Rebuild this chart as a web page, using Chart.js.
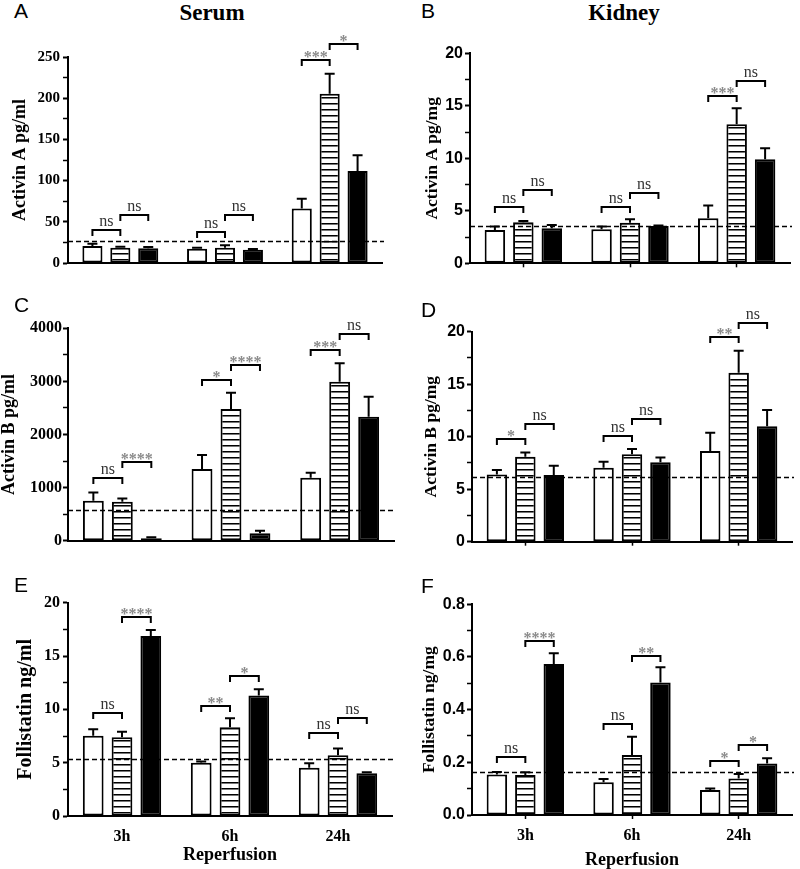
<!DOCTYPE html>
<html><head><meta charset="utf-8">
<script src="https://cdn.jsdelivr.net/npm/chart.js@4.4.0/dist/chart.umd.min.js"></script>
<style>
html,body{margin:0;padding:0;background:#fff;}
#wrap{position:relative;width:800px;height:869px;overflow:hidden;background:#fff;}
canvas{position:absolute;}
.lbl{position:absolute;font-family:"Liberation Sans",Arial,sans-serif;font-size:21px;line-height:21px;color:#000;z-index:5;}
.head{position:absolute;width:200px;text-align:center;font-family:"Liberation Serif","Times New Roman",serif;font-weight:bold;font-size:23px;line-height:23px;color:#000;z-index:5;}
</style></head>
<body><div id="wrap">
<div class="head" style="left:112px;top:1px;">Serum</div>
<div class="head" style="left:524px;top:1px;">Kidney</div>
<div class="lbl" style="left:14px;top:0px;">A</div>
<div class="lbl" style="left:421px;top:0px;">B</div>
<div class="lbl" style="left:14px;top:294px;">C</div>
<div class="lbl" style="left:421px;top:299px;">D</div>
<div class="lbl" style="left:14px;top:574px;">E</div>
<div class="lbl" style="left:421px;top:575px;">F</div>
<canvas id="cA" width="400" height="265" style="left:0;top:25px"></canvas>
<canvas id="cB" width="400" height="265" style="left:400px;top:25px"></canvas>
<canvas id="cC" width="400" height="275" style="left:0;top:295px"></canvas>
<canvas id="cD" width="400" height="275" style="left:400px;top:295px"></canvas>
<canvas id="cE" width="400" height="279" style="left:0;top:590px"></canvas>
<canvas id="cF" width="400" height="279" style="left:400px;top:590px"></canvas>
</div>
<script>
// ---------- DATA ----------
const groups = ['3h', '6h', '24h'];

// Panel A: Serum Activin A pg/ml
const A_white = [20.5, 17.4, 66];      const A_whiteSem = [3, 1.2, 12];
const A_stripe = [18.6, 18.6, 205.5];  const A_stripeSem = [1.2, 2.8, 24.3];
const A_black = [17.8, 16.2, 111.6];   const A_blackSem = [1.6, 0.8, 19.1];
const A_ref = 26.5;
const A_sig = [[0,0,1,40.5,'ns'],[0,1,2,57.8,'ns'],[1,0,1,37.6,'ns'],[1,1,2,57.8,'ns'],[2,0,1,246.8,'***'],[2,1,2,266,'*']];

// Panel B: Kidney Activin A pg/mg
const B_white = [3.17, 3.24, 4.29];    const B_whiteSem = [0.33, 0.26, 1.21];
const B_stripe = [3.9, 3.87, 13.24];   const B_stripeSem = [0.13, 0.33, 1.52];
const B_black = [3.33, 3.56, 9.9];     const B_blackSem = [0.32, 0.03, 1.05];
const B_ref = 3.55;
const B_sig = [[0,0,1,5.33,'ns'],[0,1,2,6.98,'ns'],[1,0,1,5.4,'ns'],[1,1,2,6.73,'ns'],[2,0,1,15.97,'***'],[2,1,2,17.4,'ns']];

// Panel C: Serum Activin B pg/ml
const C_white = [753, 1350, 1187];     const C_whiteSem = [157, 264, 94];
const C_stripe = [735, 2480, 2995];    const C_stripeSem = [62, 308, 346];
const C_black = [44, 138, 2336];       const C_blackSem = [19, 50, 377];
const C_ref = 582;
const C_sig = [[0,0,1,1187,'ns'],[0,1,2,1476,'****'],[1,0,1,3027,'*'],[1,1,2,3309,'****'],[2,0,1,3592,'***'],[2,1,2,3887,'ns']];

// Panel D: Kidney Activin B pg/mg
const D_white = [6.41, 7.05, 8.63];    const D_whiteSem = [0.42, 0.57, 1.75];
const D_stripe = [8.1, 8.32, 16.1];    const D_stripeSem = [0.4, 0.51, 2.09];
const D_black = [6.35, 7.56, 11.0];    const D_blackSem = [0.89, 0.47, 1.54];
const D_ref = 6.12;
const D_sig = [[0,0,1,9.78,'*'],[0,1,2,11.17,'ns'],[1,0,1,10.1,'ns'],[1,1,2,11.68,'ns'],[2,0,1,19.46,'**'],[2,1,2,20.8,'ns']];

// Panel E: Serum Follistatin ng/ml
const E_white = [7.53, 5.0, 4.53];     const E_whiteSem = [0.6, 0.1, 0.41];
const E_stripe = [7.38, 8.31, 5.69];   const E_stripeSem = [0.52, 0.85, 0.65];
const E_black = [16.88, 11.31, 4.0];   const E_blackSem = [0.56, 0.57, 0.1];
const E_ref = 5.38;
const E_sig = [[0,0,1,9.63,'ns'],[0,1,2,18.69,'****'],[1,0,1,10.31,'**'],[1,1,2,13.16,'*'],[2,0,1,7.75,'ns'],[2,1,2,9.22,'ns']];

// Panel F: Kidney Follistatin ng/mg
const F_white = [0.154, 0.124, 0.095]; const F_whiteSem = [0.009, 0.013, 0.006];
const F_stripe = [0.152, 0.228, 0.139];const F_stripeSem = [0.01, 0.069, 0.017];
const F_black = [0.573, 0.503, 0.196]; const F_blackSem = [0.041, 0.058, 0.019];
const F_ref = 0.164;
const F_sig = [[0,0,1,0.2215,'ns'],[0,1,2,0.661,'****'],[1,0,1,0.344,'ns'],[1,1,2,0.605,'**'],[2,0,1,0.206,'*'],[2,1,2,0.266,'*']];

// ---------- DRAWING ----------
const SERIF = '"Liberation Serif","Times New Roman",serif';
const SANS = '"Liberation Sans",Arial,sans-serif';

const annot = {
  id: 'annot',
  afterDatasetsDraw(chart, args, o) {
    const ctx = chart.ctx, y = chart.scales.y, ca = chart.chartArea;
    ctx.save();
    // error bars
    chart.data.datasets.forEach((ds, di) => {
      const meta = chart.getDatasetMeta(di);
      meta.data.forEach((bar, i) => {
        const top = y.getPixelForValue(ds.data[i]);
        const e = y.getPixelForValue(ds.data[i] + o.sem[di][i]);
        ctx.strokeStyle = '#000'; ctx.lineWidth = 2;
        ctx.beginPath();
        ctx.moveTo(bar.x, top); ctx.lineTo(bar.x, e);
        ctx.moveTo(bar.x - 5, e); ctx.lineTo(bar.x + 5, e);
        ctx.stroke();
      });
    });
    // dashed reference line
    const yr = Math.round(y.getPixelForValue(o.ref)) + 0.5;
    ctx.strokeStyle = '#000'; ctx.lineWidth = 1.5; ctx.setLineDash([5, 3]);
    ctx.beginPath(); ctx.moveTo(ca.left, yr); ctx.lineTo(ca.right + 2, yr); ctx.stroke();
    ctx.setLineDash([]);
    // significance brackets
    o.sig.forEach(b => {
      const [g, s1, s2, v, txt] = b;
      const x1 = chart.getDatasetMeta(s1).data[g].x;
      const x2 = chart.getDatasetMeta(s2).data[g].x;
      const yy = Math.round(y.getPixelForValue(v));
      ctx.strokeStyle = '#000'; ctx.lineWidth = 2;
      ctx.beginPath();
      ctx.moveTo(x1, yy + 6); ctx.lineTo(x1, yy); ctx.lineTo(x2, yy); ctx.lineTo(x2, yy + 6);
      ctx.stroke();
      ctx.textAlign = 'center'; ctx.textBaseline = 'alphabetic';
      const cx = (x1 + x2) / 2;
      if (txt === 'ns') {
        ctx.font = '16px ' + SERIF; ctx.fillStyle = '#333';
        ctx.fillText(txt, cx, yy - 4);
      } else {
        ctx.font = 'bold 16px ' + SERIF; ctx.fillStyle = '#8a8a8a';
        ctx.fillText(txt, cx, yy + 2);
      }
    });
    ctx.restore();
  }
};

function stripePattern(ctx) {
  const pc = document.createElement('canvas'); pc.width = 6; pc.height = 6;
  const g = pc.getContext('2d');
  g.fillStyle = '#fff'; g.fillRect(0, 0, 6, 6);
  g.fillStyle = '#000'; g.fillRect(0, 0, 6, 1);
  g.fillStyle = '#777'; g.fillRect(0, 1, 6, 1);
  return ctx.createPattern(pc, 'repeat');
}

function makePanel(id, d, L) {
  const cv = document.getElementById(id);
  const ctx = cv.getContext('2d');
  const isMajor = v => Math.abs(v / L.major - Math.round(v / L.major)) < 1e-6;
  const common = { borderColor: '#000', borderWidth: 2, borderSkipped: false, categoryPercentage: 0.8, barPercentage: 0.72 };
  new Chart(ctx, {
    type: 'bar',
    data: {
      labels: groups,
      datasets: [
        Object.assign({ data: d.white, backgroundColor: '#fff' }, common),
        Object.assign({ data: d.stripe, backgroundColor: stripePattern(ctx) }, common),
        Object.assign({ data: d.black, backgroundColor: '#000' }, common)
      ]
    },
    options: {
      responsive: false, animation: false, devicePixelRatio: 1,
      layout: { padding: { top: L.padTop, right: L.padRight, left: 0, bottom: 0 } },
      plugins: {
        legend: { display: false }, tooltip: { enabled: false },
        annot: { sem: [d.whiteSem, d.stripeSem, d.blackSem], ref: d.ref, sig: d.sig }
      },
      scales: {
        x: {
          offset: true,
          grid: { display: true, drawOnChartArea: false, offset: false, tickLength: 4, tickWidth: 1.5,
                  tickColor: L.xTicks ? '#000' : 'rgba(0,0,0,0)' },
          border: { display: true, color: '#000', width: 2 },
          ticks: { display: !!L.xLabels, color: '#000', padding: 9,
                   font: { family: SERIF, weight: 'bold', size: 16, lineHeight: 1 } },
          title: { display: !!L.xLabels, text: 'Reperfusion', color: '#000',
                   font: { family: SERIF, weight: 'bold', size: 18, lineHeight: 1 },
                   padding: { top: 0, bottom: L.xTitlePad || 0 } },
          afterFit: s => { s.height = L.xh; }
        },
        y: {
          min: 0, max: L.max,
          grid: { display: true, drawOnChartArea: false, tickLength: 5, tickColor: '#000',
                  tickWidth: c => (c.tick && isMajor(c.tick.value)) ? 2 : 1.5 },
          border: { display: true, color: '#000', width: 2 },
          ticks: {
            stepSize: L.minor, autoSkip: false, color: '#000', padding: L.tickPad,
            font: { family: L.tickFamily, weight: 'bold', size: L.tickSize, lineHeight: 1 },
            callback: v => isMajor(v) ? (L.dec ? Number(v).toFixed(L.dec) : String(Math.round(v))) : ''
          },
          title: { display: true, text: L.title, color: '#000',
                   font: { family: SERIF, weight: 'bold', size: L.titleSize, lineHeight: 1 },
                   padding: { top: L.titlePad, bottom: 0 } },
          afterFit: s => { s.width = L.axisX; }
        }
      }
    },
    plugins: [annot]
  });
}

makePanel('cA', { white: A_white, whiteSem: A_whiteSem, stripe: A_stripe, stripeSem: A_stripeSem, black: A_black, blackSem: A_blackSem, ref: A_ref, sig: A_sig },
  { axisX: 68, padTop: 32, padRight: 18, xh: 27, max: 250, minor: 25, major: 50, tickFamily: SERIF, tickSize: 15, tickPad: 3,
    title: 'Activin A pg/ml', titleSize: 18, titlePad: 11, xTicks: false });
makePanel('cB', { white: B_white, whiteSem: B_whiteSem, stripe: B_stripe, stripeSem: B_stripeSem, black: B_black, blackSem: B_blackSem, ref: B_ref, sig: B_sig },
  { axisX: 70, padTop: 28.3, padRight: 10, xh: 26.7, max: 20, minor: 2.5, major: 5, tickFamily: SANS, tickSize: 16, tickPad: 2,
    title: 'Activin A pg/mg', titleSize: 17.5, titlePad: 24, xTicks: true });
makePanel('cC', { white: C_white, whiteSem: C_whiteSem, stripe: C_stripe, stripeSem: C_stripeSem, black: C_black, blackSem: C_blackSem, ref: C_ref, sig: C_sig },
  { axisX: 68, padTop: 33.3, padRight: 6, xh: 29.3, max: 4000, minor: 500, major: 1000, tickFamily: SERIF, tickSize: 16, tickPad: 1,
    title: 'Activin B pg/ml', titleSize: 18, titlePad: 0.5, xTicks: false });
makePanel('cD', { white: D_white, whiteSem: D_whiteSem, stripe: D_stripe, stripeSem: D_stripeSem, black: D_black, blackSem: D_blackSem, ref: D_ref, sig: D_sig },
  { axisX: 72, padTop: 36.7, padRight: 8, xh: 28.3, max: 20, minor: 2.5, major: 5, tickFamily: SANS, tickSize: 16, tickPad: 2,
    title: 'Activin B pg/mg', titleSize: 17.5, titlePad: 23, xTicks: true });
makePanel('cE', { white: E_white, whiteSem: E_whiteSem, stripe: E_stripe, stripeSem: E_stripeSem, black: E_black, blackSem: E_blackSem, ref: E_ref, sig: E_sig },
  { axisX: 68, padTop: 12.7, padRight: 8, xh: 53, max: 20, minor: 2.5, major: 5, tickFamily: SERIF, tickSize: 16, tickPad: 3,
    title: 'Follistatin ng/ml', titleSize: 20, titlePad: 15.5, xTicks: false, xLabels: true, xTitlePad: 5 });
makePanel('cF', { white: F_white, whiteSem: F_whiteSem, stripe: F_stripe, stripeSem: F_stripeSem, black: F_black, blackSem: F_blackSem, ref: F_ref, sig: F_sig },
  { axisX: 72, padTop: 14.3, padRight: 8, xh: 54, max: 0.8, minor: 0.1, major: 0.2, dec: 1, tickFamily: SANS, tickSize: 16, tickPad: 2,
    title: 'Follistatin ng/mg', titleSize: 17.5, titlePad: 21, xTicks: true, xLabels: true, xTitlePad: 0 });
</script>
</body></html>
